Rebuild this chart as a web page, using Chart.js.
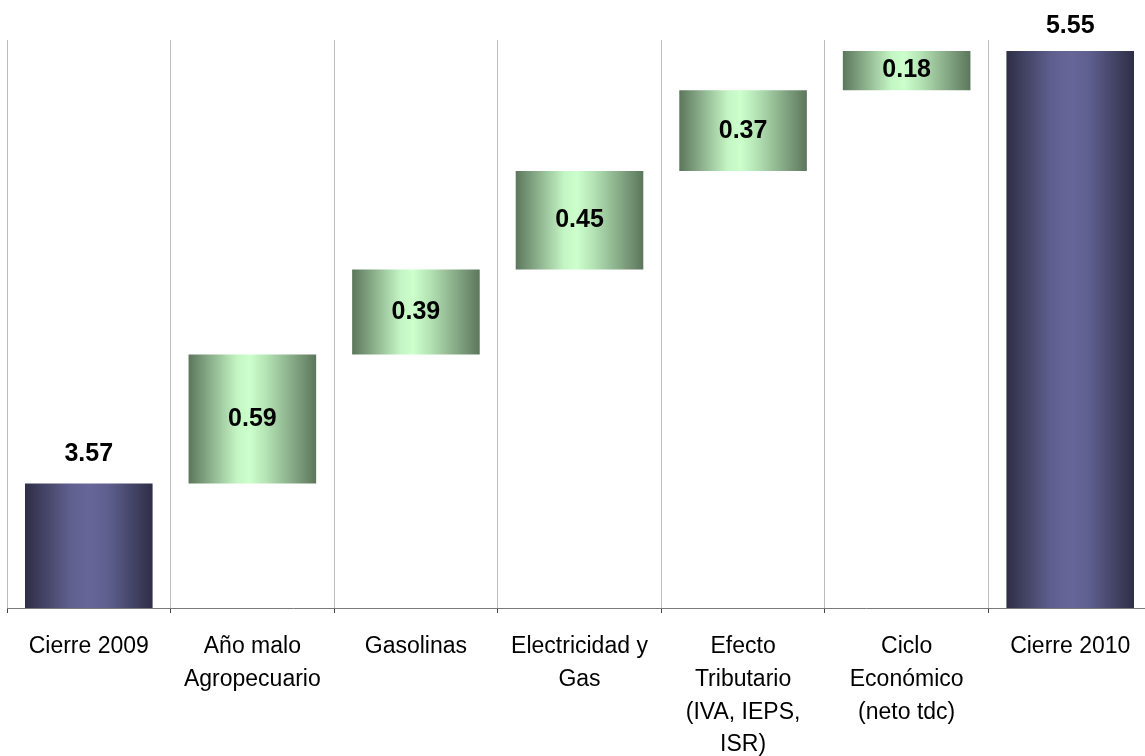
<!DOCTYPE html>
<html lang="es">
<head>
    <meta charset="UTF-8">
    <title>Cierre 2009 - Cierre 2010</title>
    <script src="https://cdn.jsdelivr.net/npm/chart.js"></script>
    <style>
        html, body {
            margin: 0;
            padding: 0;
            background: #fff;
            overflow: hidden;
        }
        #chart-container {
            width: 1160px;
            height: 756px;
        }
    </style>
</head>
<body>

<div id="chart-container">
    <canvas id="waterfall"></canvas>
</div>

<script>
    var categories = [
        ['Cierre 2009'],
        ['Año malo', 'Agropecuario'],
        ['Gasolinas'],
        ['Electricidad y', 'Gas'],
        ['Efecto', 'Tributario', '(IVA, IEPS,', 'ISR)'],
        ['Ciclo', 'Económico', '(neto tdc)'],
        ['Cierre 2010']
    ];
    var amounts = [3.57, 0.59, 0.39, 0.45, 0.37, 0.18, 5.55];
    var isTotal = [true, false, false, false, false, false, true];
    var labelText = ['3.57', '0.59', '0.39', '0.45', '0.37', '0.18', '5.55'];

    // floating bars: totals from zero, changes stacked on the running sum
    var ranges = [];
    var running = 0;
    for (var i = 0; i < amounts.length; i++) {
        if (isTotal[i]) {
            ranges.push([0, amounts[i]]);
            running = amounts[i];
        } else {
            ranges.push([running, running + amounts[i]]);
            running = running + amounts[i];
        }
    }

    function barFill(context) {
        var total = isTotal[context.dataIndex];
        var flat = total ? '#666699' : '#ccffcc';
        var chart = context.chart;
        var xs = chart.scales.x;
        if (!xs || context.type !== 'data') return flat;
        var cx = xs.getPixelForValue(context.dataIndex);
        var w = (xs.right - xs.left) / categories.length * 0.78;
        if (!isFinite(cx) || !isFinite(w) || w <= 0) return flat;
        var g = chart.ctx.createLinearGradient(cx - w / 2, 0, cx + w / 2, 0);
        if (total) {
            g.addColorStop(0, '#2e2e46');
            g.addColorStop(0.35, '#5f5f8f');
            g.addColorStop(0.5, '#666699');
            g.addColorStop(0.65, '#5f5f8f');
            g.addColorStop(1, '#2e2e46');
        } else {
            g.addColorStop(0, '#5c765c');
            g.addColorStop(0.38, '#c4f5c4');
            g.addColorStop(0.48, '#ccffcc');
            g.addColorStop(0.62, '#b2e0b2');
            g.addColorStop(1, '#5c765c');
        }
        return g;
    }

    var valueLabels = {
        id: 'valueLabels',
        afterDatasetsDraw: function(chart) {
            var ctx = chart.ctx;
            var meta = chart.getDatasetMeta(0);
            ctx.save();
            ctx.font = 'bold 25px Arial, "Liberation Sans", sans-serif';
            ctx.fillStyle = '#000';
            ctx.textAlign = 'center';
            meta.data.forEach(function(bar, i) {
                if (isTotal[i]) {
                    ctx.textBaseline = 'alphabetic';
                    ctx.fillText(labelText[i], bar.x, Math.max(bar.y - 22, 33));
                } else {
                    ctx.textBaseline = 'middle';
                    ctx.fillText(labelText[i], bar.x, (bar.y + bar.base) / 2);
                }
            });
            ctx.restore();
        }
    };

    new Chart(document.getElementById('waterfall'), {
        type: 'bar',
        data: {
            labels: categories,
            datasets: [{
                data: ranges,
                backgroundColor: barFill,
                borderWidth: 0,
                barPercentage: 0.78,
                categoryPercentage: 1
            }]
        },
        options: {
            responsive: true,
            maintainAspectRatio: false,
            animation: false,
            layout: {
                padding: { left: 7, right: 8, top: 40, bottom: 0 }
            },
            plugins: {
                legend: { display: false },
                tooltip: { enabled: false }
            },
            scales: {
                x: {
                    afterFit: function(scale) {
                        scale.height = 148;
                    },
                    grid: {
                        color: '#bdbdbd',
                        lineWidth: 1,
                        tickColor: '#444',
                        tickLength: 5
                    },
                    border: { color: '#7a7a7a', width: 1 },
                    ticks: {
                        color: '#000',
                        autoSkip: false,
                        maxRotation: 0,
                        padding: 17,
                        font: { family: 'Arial, "Liberation Sans", sans-serif', size: 23, lineHeight: 1.43 }
                    }
                },
                y: {
                    display: false,
                    min: 3,
                    max: 5.6
                }
            }
        },
        plugins: [valueLabels]
    });
</script>

</body>
</html>
